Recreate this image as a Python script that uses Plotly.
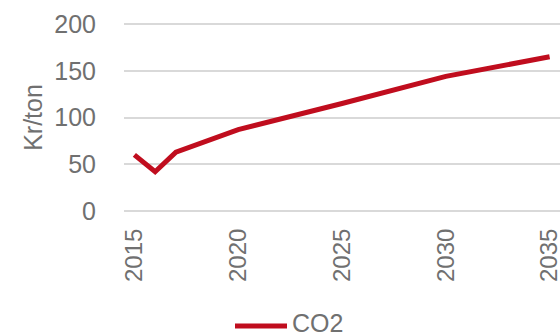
import plotly.graph_objects as go

# CO2 price path (Kr/ton)
years = [2015, 2016, 2017, 2020, 2025, 2030, 2035]
co2_price = [60, 42, 63, 87, 115, 144, 165]

x_ticks = [2015, 2020, 2025, 2030, 2035]
y_ticks = [0, 50, 100, 150, 200]
series_name = "CO2"

red = "#C00D1E"
grey_text = "#707070"
grid = "#D9D9D9"
font_family = "Liberation Sans, Arial, sans-serif"

W, H = 560, 335
# value axis padded by ~2 px each side so the 0 and 200 gridlines are not clipped
Y_PAD = 2.14
L, R, T, B = 124, 0, 22, 122
plot_w, plot_h = W - L - R, H - T - B


def px_to_paper(px, py):
    return (px - L) / plot_w, (H - B - py) / plot_h


fig = go.Figure()
fig.add_trace(go.Scatter(
    x=years, y=co2_price, mode="lines", name=series_name,
    line=dict(color=red, width=5), showlegend=False,
))

# Legend entry below the axis: a thick swatch line followed by the series name
x0, y0 = px_to_paper(235, 326)
x1, _ = px_to_paper(287, 326)
fig.add_shape(type="line", xref="paper", yref="paper", x0=x0, x1=x1, y0=y0, y1=y0,
              line=dict(color=red, width=5))
tx, ty = px_to_paper(290, 323)
fig.add_annotation(xref="paper", yref="paper", x=tx, y=ty, xanchor="left", yanchor="middle",
                   text=series_name, showarrow=False,
                   font=dict(size=25, color=grey_text, family=font_family))

fig.update_layout(
    width=W, height=H,
    margin=dict(l=L, r=R, t=T, b=B),
    paper_bgcolor="white", plot_bgcolor="white",
    font=dict(family=font_family, size=25, color=grey_text),
    showlegend=False,
)
fig.update_xaxes(
    range=[2014.5, 2035.5], tickvals=x_ticks, ticktext=[str(v) for v in x_ticks],
    tickangle=-90, showgrid=False, zeroline=False, showline=False,
    ticks="outside", ticklen=5, tickcolor="rgba(0,0,0,0)",
    tickfont=dict(size=24, color=grey_text),
    automargin=False, ticklabeloverflow="allow",
)
fig.update_yaxes(
    range=[-Y_PAD, 200 + Y_PAD], tickvals=y_ticks,
    showgrid=True, gridcolor=grid, gridwidth=1.5, zeroline=False, showline=False,
    ticks="outside", ticklen=22, tickcolor="rgba(0,0,0,0)",
    tickfont=dict(size=25, color=grey_text),
    title=dict(text="Kr/ton", font=dict(size=25, color=grey_text), standoff=4),
    automargin=False,
)

fig.write_html("out.html")
